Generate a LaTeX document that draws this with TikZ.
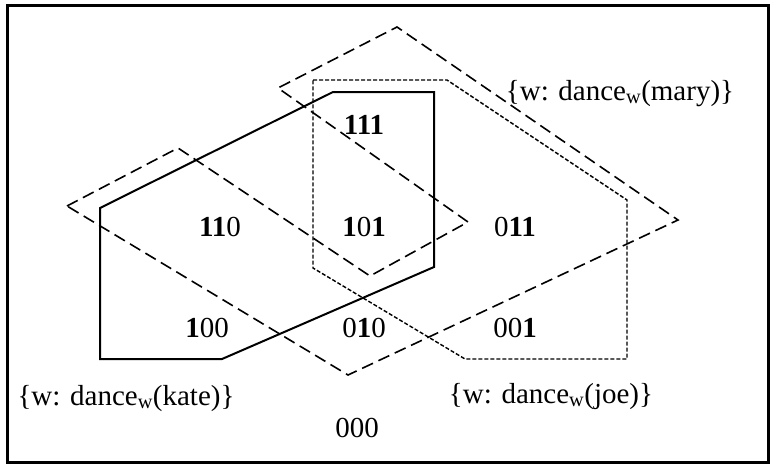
\documentclass[tikz,border=0pt]{standalone}
\usepackage{fontspec}
\setmainfont{Liberation Serif}
\usetikzlibrary{positioning}

\begin{document}
\begin{tikzpicture}[x=1pt, y=-1pt,
    frame/.style={line width=3pt},
    kate/.style={line width=2pt, line join=miter},
    mary/.style={line width=1.6pt, dash pattern=on 12pt off 6pt},
    joe/.style={line width=1.4pt, dash pattern=on 4pt off 2pt},
    world/.style={inner sep=0pt, anchor=base, font=\fontsize{29}{34}\selectfont}
  ]
  \useasboundingbox (0,0) rectangle (770,464);
  \draw[frame] (7,5) rectangle (768,462);

  % the three sets
  \draw[kate] (100,208) -- (333,92) -- (434,92) -- (434,267) -- (222,359) -- (100,359) -- cycle;
  \draw[mary] (67,206) -- (178,148) -- (370,276) -- (468,222) -- (278,88) -- (397,27)
    -- (678,220) -- (348,375) -- cycle;
  \draw[joe] (313,80) -- (447,80) -- (627,200) -- (627,359) -- (465,359) -- (313,268) -- cycle;

  % worlds
  \node[world] (w111) at (364,134) {\textbf{111}};
  \node[world] (w110) at (220,236) {\textbf{11}0};
  \node[world] (w101) at (364,236) {\textbf{1}0\textbf{1}};
  \node[world] (w011) at (515,236) {0\textbf{11}};
  \node[world] (w100) at (207,337) {\textbf{1}00};
  \node[world] (w010) at (364,337) {0\textbf{1}0};
  \node[world] (w001) at (515,337) {00\textbf{1}};
  \node[world] (w000) at (357,437) {000};

  \node[world] (mary) at (620,100) {\{w: dance\textsubscript{w}(mary)\}};
  \node[world] (kate) at (126,405) {\{w: dance\textsubscript{w}(kate)\}};
  \node[world] (joe) at (551,403) {\{w: dance\textsubscript{w}(joe)\}};
\end{tikzpicture}
\end{document}
